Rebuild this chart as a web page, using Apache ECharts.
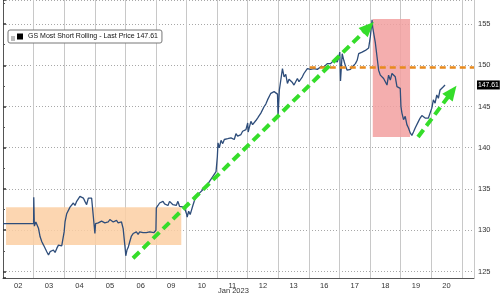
<!DOCTYPE html>
<html><head><meta charset="utf-8">
<script src="https://cdn.jsdelivr.net/npm/echarts@6/dist/echarts.min.js"></script>
<style>html,body{margin:0;padding:0;background:#fff}#c{width:500px;height:298px}</style>
</head><body><div id="c"></div>
<script>
// day labels (trading sessions, Jan 2023)
var dayLabels = ['02','03','04','05','06','09','10','11','12','13','16','17','18','19','20'];
var yTicks = [125,130,135,140,145,150,155];
// intraday position (in day units) and price
var xDay = [0,1.0,1.006,1.025,1.074,1.162,1.214,1.27,1.325,1.432,1.488,1.54,1.595,1.65,1.703,1.758,1.813,1.865,1.92,1.97,
 1.999,2.018,2.028,2.083,2.139,2.191,2.246,2.301,2.354,2.409,2.464,2.516,2.572,2.627,2.679,2.734,2.79,2.842,2.897,2.962,
 3.005,3.027,3.115,3.223,3.33,3.441,3.493,3.548,3.604,3.656,3.711,3.766,3.809,3.874,3.929,3.97,
 4.004,4.014,4.053,4.092,4.144,4.199,4.255,4.307,4.362,4.417,4.469,4.525,4.58,4.632,4.688,4.743,4.795,4.85,4.932,
 5.0,5.013,5.068,5.12,5.176,5.231,5.283,5.339,5.394,5.446,5.501,5.557,5.609,5.664,5.719,5.771,5.827,5.925,
 6.0,6.022,6.071,6.12,6.208,6.26,6.315,6.37,6.423,6.478,6.533,6.585,6.64,6.696,6.748,6.803,6.858,6.91,6.966,
 7.008,7.03,7.073,7.129,7.184,7.236,7.292,7.347,7.399,7.454,7.51,7.562,7.617,7.672,7.724,7.78,7.835,7.888,7.943,
 8.001,8.017,8.05,8.105,8.161,8.213,8.268,8.324,8.376,8.431,8.486,8.539,8.594,8.649,8.701,8.757,8.812,8.864,8.92,8.975,
 8.993,9.036,9.137,9.19,9.245,9.3,9.352,9.408,9.463,9.515,9.57,9.626,9.678,9.733,9.788,9.84,9.896,9.951,
 10.0,10.06,10.166,10.277,10.384,10.492,10.602,10.71,10.82,10.928,10.98,
 11.012,11.035,11.09,11.143,11.198,11.253,11.305,11.36,11.416,11.468,11.523,11.579,11.63,11.686,11.741,11.794,11.849,11.904,11.956,12.012,
 12.067,12.087,12.12,12.175,12.23,12.282,12.337,12.393,12.445,12.5,12.555,12.607,12.663,12.718,12.77,12.826,12.881,12.933,12.988,
 13.011,13.044,13.096,13.151,13.206,13.258,13.314,13.369,13.421,13.477,13.532,13.584,13.639,13.695,13.747,13.802,13.857,13.909,13.965,
 14.02,14.072,14.128,14.183,14.235,14.29,14.346,14.398,14.453];
var price = [130.8,130.8,134.0,130.5,131.0,130.2,129.2,128.6,128.2,127.4,127.0,127.4,127.2,127.6,127.3,127.8,128.2,128.0,128.1,128.1,
 129.8,130.6,131.0,132.0,131.8,132.8,133.0,133.3,133.0,133.5,133.4,134.1,134.3,133.9,133.5,133.1,133.9,133.8,133.9,133.7,
 129.6,130.8,130.9,131.1,130.9,131.0,131.3,131.4,131.0,131.1,131.2,130.9,130.8,131.0,130.2,130.2,
 127.4,126.9,127.6,127.9,128.6,129.3,129.6,129.7,129.8,129.5,129.8,129.6,129.7,129.5,129.7,129.5,129.8,129.6,129.7,
 130.0,132.7,133.0,133.3,133.2,133.5,133.2,133.3,133.0,133.5,133.6,133.1,133.2,133.0,133.5,132.9,133.0,132.8,
 132.0,131.6,132.3,131.9,133.0,133.6,134.0,134.1,134.5,134.7,134.9,135.2,135.4,135.6,135.9,136.1,136.5,136.4,137.1,
 138.9,140.6,140.0,140.9,140.5,141.0,140.8,141.1,140.9,141.2,141.3,141.0,141.7,141.4,141.3,141.6,142.0,141.8,142.2,
 143.0,141.9,142.4,143.2,142.8,142.6,143.3,143.6,143.9,144.2,144.0,145.0,145.3,145.8,146.0,146.6,146.4,146.8,146.9,146.5,
 143.8,147.0,149.6,148.6,148.9,147.8,148.3,148.2,147.9,147.6,148.0,148.4,148.0,148.2,148.6,149.0,149.2,149.6,
 149.4,149.5,149.6,149.5,149.8,149.8,150.2,150.2,150.6,150.4,151.0,
 151.6,148.1,151.4,150.6,149.9,149.4,149.6,149.5,149.8,150.0,150.2,150.6,151.4,151.2,151.6,151.7,151.8,151.7,152.1,153.5,
 155.5,154.6,154.7,152.7,151.0,149.4,148.8,149.0,148.4,148.6,147.6,148.8,148.2,149.0,148.8,148.6,147.4,147.2,147.2,
 145.0,144.2,143.4,143.8,142.8,142.4,141.8,141.5,141.9,142.4,142.6,143.2,143.6,143.9,143.8,143.6,143.4,143.6,143.8,
 144.8,145.8,145.4,146.4,146.0,147.0,147.2,147.4,147.61];
var seriesName = 'GS Most Short Rolling - Last Price 147.61';
var lastPrice = 147.61;
// annotations (day units, price)
var orangeBox = [[0.1,132.8],[5.83,128.2]];
var pinkBox = [[12.09,155.6],[13.31,141.3]];
var resistStart = [10.03,149.8];
var arrow1 = [[4.25,126.6],[11.95,154.6]];
var arrow2 = [[13.57,141.3],[14.68,146.8]];

var data = xDay.map(function(x,i){return [x, price[i]];});
var chart = echarts.init(document.getElementById('c'));
var F = 'Liberation Sans, Arial, sans-serif';
chart.setOption({
  animation:false,
  grid:{left:1,right:26,top:0,bottom:20},
  legend:{left:8,top:30,padding:[3,4,3,9],itemWidth:6,itemHeight:6,itemGap:3,
    backgroundColor:'#fff',borderColor:'#777',borderWidth:1,borderRadius:2,
    textStyle:{fontFamily:F,fontSize:7,color:'#111'},
    data:[{name:seriesName,icon:'rect',itemStyle:{color:'#000'}}]},
  xAxis:[{type:'value',min:0,max:15.4,interval:1,position:'bottom',
      axisLine:{show:true,lineStyle:{color:'#555',width:1}},axisTick:{show:false},axisLabel:{show:false},
      splitLine:{show:true,lineStyle:{color:'#c8c8c8',width:1}}},
    {type:'value',min:0,max:15.4,interval:0.5,position:'bottom',
      axisLine:{show:false},axisTick:{show:false},splitLine:{show:false},
      axisLabel:{show:true,margin:4,fontFamily:F,fontSize:7.5,color:'#333',
        formatter:function(v){var f=v-Math.floor(v);return Math.abs(f-0.5)<1e-6?(dayLabels[Math.floor(v)]||''):'';}}}],
  yAxis:{type:'value',position:'right',min:124.21,max:157.91,splitNumber:6,
    axisLine:{show:true,lineStyle:{color:'#555'}},
    axisTick:{show:true,length:3,lineStyle:{color:'#333',width:1.5}},
    minorTick:{show:true,splitNumber:2,length:2,lineStyle:{color:'#555'}},
    axisLabel:{margin:4,fontFamily:F,fontSize:7.5,color:'#333',
      formatter:function(v){return yTicks.indexOf(Math.round(v*100)/100)>=0?String(v):'';}},
    splitLine:{show:true,lineStyle:{color:'#a8a8a8',type:[1,2],width:1}}},
  graphic:[{type:'text',left:218,top:287,style:{text:'Jan 2023',fontFamily:F,fontSize:7.5,fill:'#333'}},
    {type:'rect',shape:{x:11,y:36,width:4,height:5},style:{fill:'#bbb'},z:100}],
  series:[
    {type:'line',name:'areas',data:[],z:1,silent:true,
      markArea:{silent:true,data:[
        [{coord:orangeBox[0],itemStyle:{color:'rgba(251,207,163,0.85)'}},{coord:orangeBox[1]}],
        [{coord:pinkBox[0],itemStyle:{color:'rgba(242,160,160,0.85)'}},{coord:pinkBox[1]}]]}},
    {type:'line',name:seriesName,data:data,showSymbol:false,z:3,
      lineStyle:{color:'#2e4d7a',width:1.3},itemStyle:{color:'#000'}},
    {type:'line',name:'marks',data:[],z:5,silent:true,
      markLine:{silent:true,label:{show:false},data:[
        [{coord:resistStart,symbol:'none',lineStyle:{color:'#e8891c',width:2.5,type:[6,4]}},{coord:[15.4,resistStart[1]],symbol:'none'}],
        [{coord:arrow1[0],symbol:'none',lineStyle:{color:'#35dd2a',width:4,type:[9,5]}},{coord:arrow1[1],symbol:'triangle',symbolSize:[13,15]}],
        [{coord:arrow2[0],symbol:'none',lineStyle:{color:'#35dd2a',width:4,type:[9,5]}},{coord:arrow2[1],symbol:'triangle',symbolSize:[13,15]}],
        [{coord:[15.0,lastPrice],symbol:'none',lineStyle:{color:'rgba(0,0,0,0)',width:0.1},
          label:{show:true,position:'end',distance:3,formatter:'147.61',
          backgroundColor:'#000',color:'#fff',padding:[1,1,1,1],fontFamily:F,fontSize:6.8}},{coord:[15.4,lastPrice],symbol:'none'}]]}}
  ]
});
</script></body></html>
